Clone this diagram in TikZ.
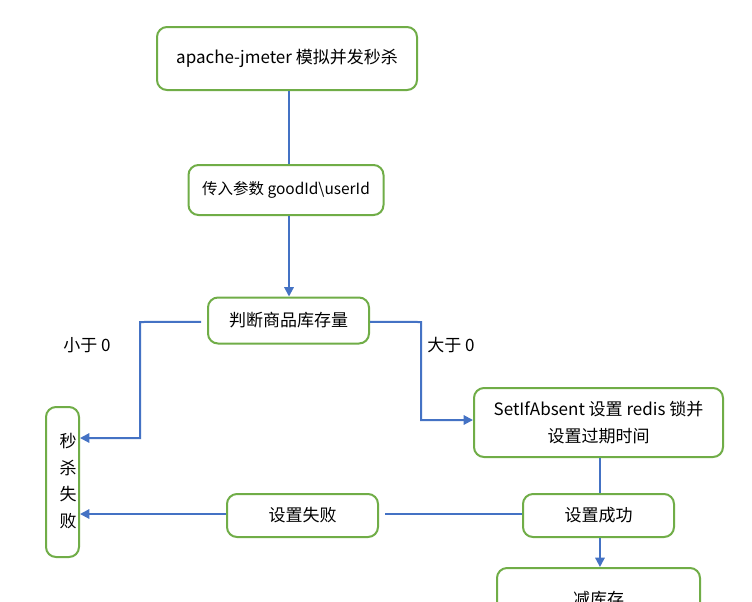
\documentclass[tikz,border=0pt]{standalone}
\usepackage{fontspec}
\setmainfont{Noto Sans CJK SC}
\usetikzlibrary{arrows.meta}
\definecolor{boxgreen}{HTML}{70AD47}
\definecolor{lineblue}{HTML}{4472C4}
\begin{document}
\begin{tikzpicture}[x=0.75pt,y=-0.75pt,
  box/.style={draw=boxgreen,line width=1.5pt,rounded corners=7.5pt,fill=white,inner sep=0pt,align=center,font=\fontsize{12.75}{20}\selectfont},
  conn/.style={draw=lineblue,line width=1.5pt},
  thinconn/.style={draw=lineblue,line width=0.8pt},
  arr/.style={conn,-{Triangle[length=7pt,width=7pt]}},
  lbl/.style={font=\fontsize{12.75}{16}\selectfont,inner sep=0pt}]
\useasboundingbox (0,0) rectangle (752,601);
\clip (0,0) rectangle (752,601);
\fill[white] (0,0) rectangle (752,601);

\node[box,minimum width=195pt,minimum height=47.25pt] (b1) at (287,58.5) {apache-jmeter 模拟并发秒杀};
\node[box,minimum width=146.25pt,minimum height=37.5pt,font=\fontsize{11.6}{16}\selectfont] (b2) at (286,190) {传入参数 goodId\textbackslash userId};
\node[box,minimum width=120.75pt,minimum height=34.5pt] (b3) at (288.5,320.5) {判断商品库存量};
\node[box,minimum width=24.75pt,minimum height=112.5pt] (fail) at (62.5,482) {};
\node[lbl,align=center,font=\fontsize{12.75}{20}\selectfont] (failtxt) at (68,481) {秒\\杀\\失\\败};
\node[box,minimum width=186.75pt,minimum height=51.75pt] (setbox) at (598.5,422.5) {SetIfAbsent 设置 redis 锁并\\设置过期时间};
\node[box,minimum width=113.25pt,minimum height=32.25pt] (succ) at (598.5,515.5) {设置成功};
\node[box,minimum width=113.25pt,minimum height=32.25pt] (fail2) at (302.5,515.5) {设置失败};
\node[box,minimum width=152.25pt,minimum height=46.5pt] (dec) at (598.5,599) {减库存};

\node[lbl] (lt) at (87,345) {小于 0};
\node[lbl] (gt) at (451,345) {大于 0};

\draw[conn] ([xshift=1.5pt]b1.south) -- ([xshift=1.5pt]b1.south |- b2.north);
\draw[arr] ([xshift=2.25pt]b2.south) -- ([xshift=2.25pt]b2.south |- b3.north);
\draw[arr] ([xshift=-4.5pt,yshift=-1pt]b3.west) -- (140,322) -- (140,438) -- (fail.east |- 0,438);
\draw[arr] ([yshift=-1pt]b3.east) -- (421,322) -- (421,420) -- (setbox.west |- 0,420);
\draw[conn] ([xshift=1.1pt]setbox.south) -- ([xshift=1.1pt]succ.north);
\draw[thinconn] (succ.west |- 0,514) -- ([xshift=4.5pt]fail2.east |- 0,514);
\draw[arr] (fail2.west |- 0,514) -- (fail.east |- 0,514);
\draw[arr] ([xshift=1.1pt]succ.south) -- ([xshift=1.1pt]dec.north);
\end{tikzpicture}
\end{document}
